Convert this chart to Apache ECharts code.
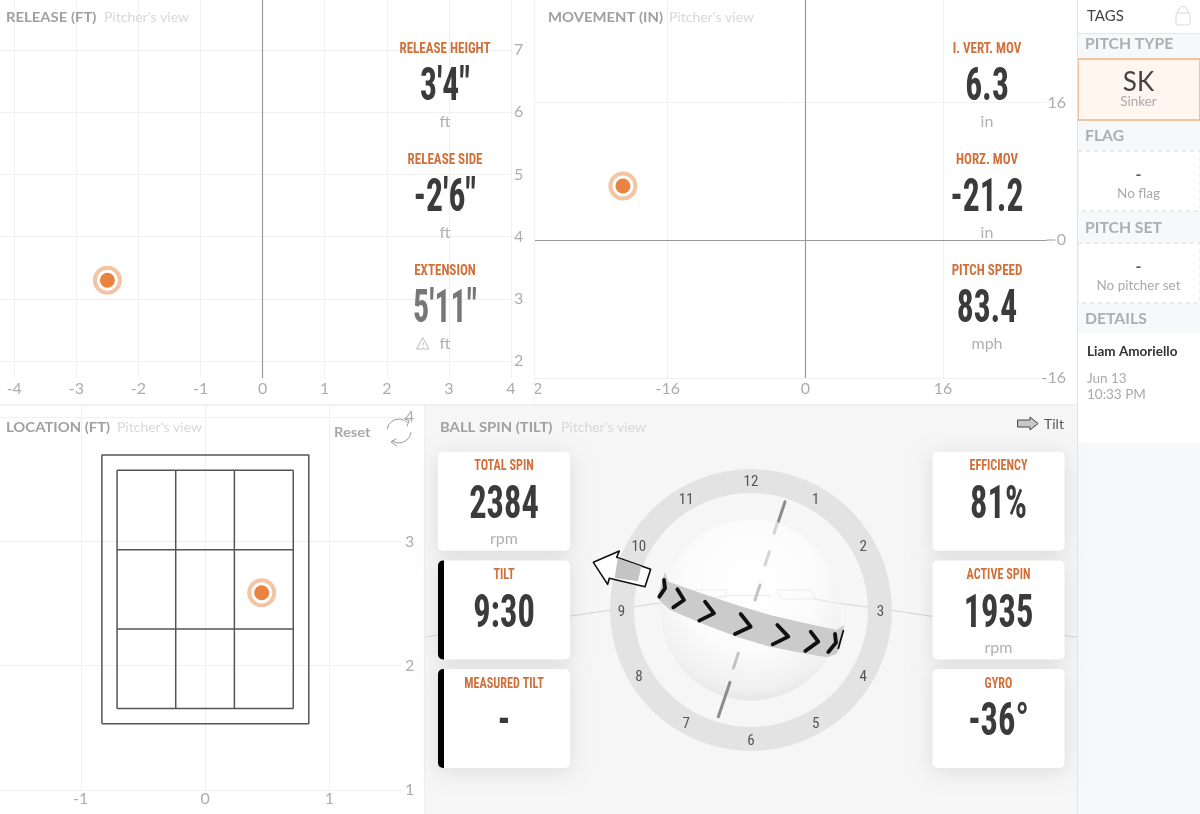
<!DOCTYPE html>
<html>
<head>
<meta charset="utf-8">
<title>Pitch detail</title>
<script src="https://cdn.jsdelivr.net/npm/echarts@6/dist/echarts.min.js"></script>
<style>
	html, body { margin: 0; padding: 0; background: #fff; }
	#main { width: 1200px; height: 814px; }
</style>
</head>
<body>
<div id="main"></div>
<script>
// pitch points
var releaseSide = [-2.5];
var releaseHeight = [3.3];
var moveHorz = [-21.2];
var moveVert = [6.3];
var locationSide = [0.456];
var locationHeight = [2.587];

// tick labels
var releaseXTicks = [-4, -3, -2, -1, 0, 1, 2, 3, 4];
var releaseYTicks = [2, 3, 4, 5, 6, 7];
var moveXTicks = [-32, -16, 0, 16];
var moveYTicks = [-16, 0, 16];
var locationXTicks = [-1, 0, 1];
var locationYTicks = [1, 2, 3, 4];

// strike zone, ft
var zoneOuterX = [-0.83, 0.835];
var zoneOuterY = [1.533, 3.695];
var zoneInnerX = [-0.708, -0.236, 0.236, 0.71];
var zoneInnerY = [1.656, 2.295, 2.933, 3.572];

// stat columns
var releaseStats = [
	['RELEASE HEIGHT', '3\'4"', 'ft'],
	['RELEASE SIDE', '-2\'6"', 'ft'],
	['EXTENSION', '5\'11"', 'ft']
];
var moveStats = [
	['I. VERT. MOV', '6.3', 'in'],
	['HORZ. MOV', '-21.2', 'in'],
	['PITCH SPEED', '83.4', 'mph']
];
var leftCards = [
	['TOTAL SPIN', '2384', 'rpm'],
	['TILT', '9:30', ''],
	['MEASURED TILT', '-', '']
];
var rightCards = [
	['EFFICIENCY', '81%', ''],
	['ACTIVE SPIN', '1935', 'rpm'],
	['GYRO', '-36°', '']
];
var clockLabels = ['12', '1', '2', '3', '4', '5', '6', '7', '8', '9', '10', '11'];

var ORANGE = '#d0703a';
var NARROW = '"Liberation Sans Narrow", "Roboto Condensed", Roboto, sans-serif';
var LATO = 'Lato, "Open Sans", sans-serif';

var g = [];

function txt(s, x, y, font, fill, align, sx, sy) {
	return {
		type: 'text', z: 20, x: x, y: y, scaleX: sx || 1, scaleY: sy || 1, silent: true,
		style: { text: s, font: font, fill: fill, align: align || 'left', verticalAlign: 'middle' }
	};
}
function box(x, y, w, h, fill, z, extra) {
	var style = { fill: fill };
	for (var k in extra) style[k] = extra[k];
	return { type: 'rect', z: z, silent: true, shape: { x: x, y: y, width: w, height: h, r: (extra && extra.r) || 0 }, style: style };
}
function poly(points, stroke, width, z, fill, closed) {
	return {
		type: closed ? 'polygon' : 'polyline', z: z || 20, silent: true,
		shape: { points: points },
		style: { stroke: stroke, lineWidth: width, fill: fill || null, lineCap: 'round', lineJoin: 'round' }
	};
}
// the dial crop was read at 3x, this turns those readings back to page pixels
function dz(points) {
	return points.map(function(p) { return [570 + p[0] / 3, 450 + p[1] / 3]; });
}

// panels
g.push(box(425, 405, 652, 409, '#f6f6f6', -20));
g.push(box(1077, 0, 123, 814, '#f7f8fa', -20));
g.push(box(0, 404, 1077, 1.5, '#eeeeee', -19));
g.push(box(424, 405, 1.5, 409, '#f0f0f0', -19));
g.push(box(1077, 0, 1, 814, '#e2e2e6', 15));

// the movement panel clips its leftmost tick label, only the "2" of -32 is left
g.push(box(525, 0, 9, 404, '#fff', 10));
g.push(box(517.5, 380, 17, 18, '#fff', 10));
g.push(box(534, 0, 1, 404, '#f2f2f2', 11));

// titles
function title(a, ax, b, bx, y) {
	g.push(txt(a, ax, y, 'bold 14px ' + LATO, '#a0a0a0', 'left', 1.06));
	g.push(txt(b, bx, y, '14px ' + LATO, '#d8d8d8'));
}
title('RELEASE (FT)', 6, "Pitcher's view", 104, 17);
title('MOVEMENT (IN)', 548, "Pitcher's view", 669, 17);
title('LOCATION (FT)', 6, "Pitcher's view", 117, 427);
title('BALL SPIN (TILT)', 440, "Pitcher's view", 561, 427);
g.push(txt('Reset', 334, 432, 'bold 14px ' + LATO, '#a8a8a8', 'left', 1.05));

// reset icon
g.push({ type: 'arc', z: 20, silent: true, shape: { cx: 399, cy: 431, r: 12, startAngle: 3.3, endAngle: 5.5 }, style: { stroke: '#999', lineWidth: 1, fill: null } });
g.push({ type: 'arc', z: 20, silent: true, shape: { cx: 399, cy: 431, r: 12, startAngle: 0.1, endAngle: 2.2 }, style: { stroke: '#999', lineWidth: 1, fill: null } });
g.push(poly([[404, 418], [409, 421], [407, 426]], '#999', 1));
g.push(poly([[397, 446], [391, 442], [396, 439]], '#999', 1));

// stat columns
function statColumn(stats, cx) {
	stats.forEach(function(s, i) {
		var dy = i * 111;
		var dim = s[0] == 'EXTENSION';
		g.push(txt(s[0], cx, 49 + dy, 'bold 15px ' + NARROW, ORANGE, 'center', 0.87));
		g.push(txt(s[1], cx, 89 + dy, 'bold 42px ' + NARROW, dim ? '#777' : '#3b3b3b', 'center', s[0] == 'EXTENSION' ? 0.76 : 0.8, 1.08));
		g.push(txt(s[2], cx, 122 + dy, '16px ' + LATO, '#b0b0b0', 'center'));
	});
}
statColumn(releaseStats, 445);
statColumn(moveStats, 987);
g.push(poly([[423, 338], [429, 349], [417, 349]], '#aaa', 0.8, 20, null, true));
g.push(txt('!', 423, 345, '8px ' + LATO, '#aaa', 'center'));

// dial
g.push({ type: 'ring', z: 1, silent: true, shape: { cx: 751, cy: 610, r: 141, r0: 117 }, style: { fill: '#e3e3e3' } });
g.push({
	type: 'circle', z: 2, silent: true, shape: { cx: 751, cy: 610, r: 90.5 },
	style: {
		fill: {
			type: 'radial', x: 0.5, y: 0.36, r: 0.68,
			colorStops: [{ offset: 0, color: '#ffffff' }, { offset: 0.55, color: '#fbfbfb' }, { offset: 0.85, color: '#f0f0f0' }, { offset: 1, color: '#e2e2e2' }]
		}
	}
});
clockLabels.forEach(function(c, i) {
	var a = i * Math.PI / 6;
	g.push(txt(c, 751 + 129.5 * Math.sin(a), 610 - 129.5 * Math.cos(a) + 2, '15px ' + NARROW, '#555', 'center'));
});

// seam line behind the ball and the cards
g.push({
	type: 'polyline', z: 0, silent: true,
	shape: { points: [[427, 637], [500, 626], [570, 616], [660, 603]], smooth: 0.3 },
	style: { stroke: '#d4d4d4', lineWidth: 1, fill: null }
});
g.push({
	type: 'polyline', z: 0, silent: true,
	shape: { points: [[815, 600], [910, 613], [1000, 627], [1077, 637]], smooth: 0.3 },
	style: { stroke: '#d4d4d4', lineWidth: 1, fill: null }
});
g.push(poly(dz([[262, 462], [360, 450], [480, 437], [600, 437]]), '#e8e8e8', 1, 3));
g.push(poly(dz([[620, 420], [722, 420], [738, 447], [632, 447], [620, 420]]), '#ececec', 1, 3));
g.push(poly(dz([[360, 420], [470, 420], [462, 445]]), '#eeeeee', 1, 3));
g.push(poly(dz([[735, 447], [815, 462]]), '#e4e4e4', 1, 3));

// spin axis
g.push(poly(dz([[645, 155], [625, 215]]), '#8c8c8c', 3, 6));
g.push(poly(dz([[622, 220], [612, 250]]), '#d4d4d4', 3, 6));
g.push(poly(dz([[598, 305], [585, 345]]), '#d4d4d4', 3, 6));
g.push(poly(dz([[570, 405], [555, 450]]), '#c4c4c4', 3, 6));
g.push(poly(dz([[505, 610], [490, 655]]), '#c4c4c4', 3, 6));
g.push(poly(dz([[480, 697], [445, 800]]), '#8c8c8c', 3, 6));

// spin band
g.push({
	type: 'polygon', z: 4, silent: true,
	shape: {
		points: dz([[285, 365], [295, 395], [400, 432], [500, 465], [600, 495], [700, 518], [800, 540], [822, 525], [810, 590], [800, 612], [770, 622], [700, 610], [600, 590], [500, 560], [400, 522], [300, 480], [262, 445]])
	},
	style: { fill: '#cbcbcb' }
});
var chevrons = [
	[[282, 390], [285, 415], [268, 440]],
	[[322, 418], [342, 450], [310, 472]],
	[[405, 455], [432, 490], [388, 512]],
	[[512, 492], [542, 530], [495, 552]],
	[[622, 525], [655, 560], [608, 583]],
	[[722, 545], [745, 575], [706, 603]],
	[[795, 552], [798, 578], [775, 606]]
];
chevrons.forEach(function(c) {
	g.push(poly(dz(c), '#111', 3.8, 7));
});
g.push(poly(dz([[820, 542], [805, 595]]), '#111', 1.8, 7));

// tilt arrow
g.push(poly(dz([[70, 337], [148, 303], [140, 322], [242, 358], [225, 410], [118, 385], [113, 403]]), '#111', 1.6, 8, '#fff', true));
g.push({
	type: 'polygon', z: 9, silent: true,
	shape: { points: dz([[143, 325], [214, 349], [204, 394], [134, 384]]) },
	style: { fill: '#c4c4c4' }
});

// small tilt legend
g.push(poly([[1018, 420], [1030, 420], [1030, 417], [1038, 423.5], [1030, 430], [1030, 427], [1018, 427]], '#444', 1, 20, '#c8c8c8', true));
g.push(txt('Tilt', 1044, 424, '14px ' + LATO, '#555'));

// spin cards
function cards(list, x, barred) {
	list.forEach(function(c, i) {
		var y = [451.7, 560.5, 669][i];
		g.push(box(x, y, 132, 99, '#fff', 12, { r: 5, shadowBlur: 20, shadowColor: 'rgba(0,0,0,0.1)', shadowOffsetY: 3 }));
		if (barred && i > 0) {
			g.push(box(x, y, 6, 99, '#000', 13, { r: [5, 0, 0, 5] }));
		}
		g.push(txt(c[0], x + 66, y + 15, 'bold 14px ' + NARROW, ORANGE, 'center', 0.87));
		g.push(txt(c[1], x + 66, y + 55, 'bold 42px ' + NARROW, '#3b3b3b', 'center', 0.82, 1.08));
		if (c[2]) {
			g.push(txt(c[2], x + 66, y + 87, '16px ' + LATO, '#b0b0b0', 'center'));
		}
	});
}
cards(leftCards, 438, true);
cards(rightCards, 932.5, false);

// sidebar
g.push(box(1078, 0, 122, 33, '#fff', 12));
g.push(box(1078, 33, 122, 1, '#e6e6ea', 13));
g.push(txt('TAGS', 1087, 16, '15px ' + LATO, '#444'));
g.push({ type: 'rect', z: 13, silent: true, shape: { x: 1176, y: 13, width: 14, height: 12, r: 2 }, style: { stroke: '#d8d8d8', fill: null, lineWidth: 1 } });
g.push({ type: 'arc', z: 13, silent: true, shape: { cx: 1183, cy: 11, r: 4.5, startAngle: Math.PI, endAngle: 0 }, style: { stroke: '#d8d8d8', fill: null, lineWidth: 1 } });
g.push(poly([[1178, 13], [1178, 11]], '#d8d8d8', 1, 13));
g.push(poly([[1188, 13], [1188, 11]], '#d8d8d8', 1, 13));

g.push(box(1078, 59, 122, 61, '#fef6ef', 12, { stroke: '#efb285', lineWidth: 1.5 }));
g.push(txt('SK', 1138.5, 83, '26px ' + LATO, '#444', 'center'));
g.push(txt('Sinker', 1138.5, 102, '13.5px ' + LATO, '#aaa', 'center'));

function dashedBox(y, h) {
	g.push(box(1078, y, 122, h, '#fff', 12, { stroke: '#dcdcdc', lineWidth: 1, lineDash: [4, 4] }));
}
dashedBox(151, 60);
g.push(txt('-', 1138.5, 175, 'bold 16px ' + LATO, '#555', 'center'));
g.push(txt('No flag', 1138.5, 194, '13.5px ' + LATO, '#aaa', 'center'));
dashedBox(243, 60);
g.push(txt('-', 1138.5, 267, 'bold 16px ' + LATO, '#555', 'center'));
g.push(txt('No pitcher set', 1138.5, 286, '13.5px ' + LATO, '#aaa', 'center'));

g.push(txt('PITCH TYPE', 1085, 44, 'bold 15px ' + LATO, '#aeaeae', 'left', 1.05));
g.push(txt('FLAG', 1085, 136, 'bold 15px ' + LATO, '#aeaeae', 'left', 1.05));
g.push(txt('PITCH SET', 1085, 228, 'bold 15px ' + LATO, '#aeaeae', 'left', 1.05));
g.push(txt('DETAILS', 1085, 319, 'bold 15px ' + LATO, '#aeaeae', 'left', 1.05));

g.push(box(1078, 333, 122, 110, '#fff', 12));
g.push(txt('Liam Amoriello', 1087, 352, 'bold 13.5px ' + LATO, '#333'));
g.push(txt('Jun 13', 1087, 379, '13.5px ' + LATO, '#aaa'));
g.push(txt('10:33 PM', 1087, 395, '13.5px ' + LATO, '#aaa'));

// the zero line of the movement panel runs on up to its tick label
g.push(poly([[1047, 240], [1055, 240]], '#9a9a9a', 1.2, 5));

// axes
var gridLine = { show: true, lineStyle: { color: '#f0f0f0', width: 1 } };

function xAxis(grid, min, max, ticks, margin) {
	return {
		type: 'value', gridIndex: grid, min: min, max: max, position: 'bottom',
		axisLine: { show: false },
		axisTick: { show: false, customValues: ticks },
		splitLine: gridLine,
		axisLabel: { color: '#adadad', fontFamily: 'Lato', fontSize: 16, margin: margin, showMinLabel: true, showMaxLabel: true, customValues: ticks }
	};
}
function yAxis(grid, min, max, ticks, margin, align, pad) {
	return {
		type: 'value', gridIndex: grid, min: min, max: max, position: 'right',
		axisLine: { show: false },
		axisTick: { show: false, customValues: ticks },
		splitLine: gridLine,
		axisLabel: { color: '#adadad', fontFamily: 'Lato', fontSize: 16, margin: margin, align: align, padding: [pad, 0, 0, 0], showMinLabel: true, showMaxLabel: true, customValues: ticks }
	};
}

// pitch dot, ring + core
function dot(index, xs, ys) {
	var data = xs.map(function(x, i) { return [x, ys[i]]; });
	return [{
		type: 'scatter', xAxisIndex: index, yAxisIndex: index, data: data, silent: true, z: 5,
		symbolSize: 25,
		itemStyle: { color: '#fff', opacity: 1, borderColor: '#f2c5a4', borderWidth: 4 }
	}, {
		type: 'scatter', xAxisIndex: index, yAxisIndex: index, data: data, silent: true, z: 6,
		symbolSize: 15,
		itemStyle: { color: '#e8843f', opacity: 1 }
	}];
}

function zeroLine(index, data) {
	return {
		type: 'line', xAxisIndex: index, yAxisIndex: index, data: [], silent: true,
		markLine: { silent: true, symbol: 'none', label: { show: false }, animation: false, lineStyle: { color: '#9a9a9a', width: 1.2, type: 'solid' }, data: data }
	};
}

// strike zone, drawn as line paths with null gaps
var zoneOuter = [
	[zoneOuterX[0], zoneOuterY[0]], [zoneOuterX[1], zoneOuterY[0]], [zoneOuterX[1], zoneOuterY[1]],
	[zoneOuterX[0], zoneOuterY[1]], [zoneOuterX[0], zoneOuterY[0]]
];
var zoneInner = [];
zoneInnerX.forEach(function(x) {
	zoneInner.push([x, zoneInnerY[0]], [x, zoneInnerY[3]], [null, null]);
});
zoneInnerY.forEach(function(y) {
	zoneInner.push([zoneInnerX[0], y], [zoneInnerX[3], y], [null, null]);
});
function zoneSeries(data) {
	return {
		type: 'line', xAxisIndex: 2, yAxisIndex: 2, data: data, silent: true, z: 4,
		showSymbol: false, symbol: 'none', connectNulls: false,
		lineStyle: { color: '#555', width: 1.5 }
	};
}

var chart = echarts.init(document.getElementById('main'));
var option = {
	animation: false,
	backgroundColor: '#fff',
	graphic: { elements: g },
	grid: [
		{ left: 0, top: 0, width: 511, height: 378 },
		{ left: 530, top: 0, width: 517, height: 378 },
		{ left: 0, top: 405, width: 402, height: 385 }
	],
	xAxis: [
		xAxis(0, -4.23, 4, releaseXTicks, 3),
		xAxis(1, -32, 28.08, moveXTicks, 3),
		xAxis(2, -1.65, 1.585, locationXTicks, 1)
	],
	yAxis: [
		yAxis(0, 1.73, 7.8, releaseYTicks, 3, 'left', 3),
		yAxis(1, -16, 27.9, moveYTicks, 19, 'right', 3),
		yAxis(2, 1, 4.097, locationYTicks, 3, 'left', 0)
	],
	series: [
		zeroLine(0, [{ xAxis: 0 }]),
		zeroLine(1, [{ xAxis: 0 }, { yAxis: 0 }]),
		zoneSeries(zoneOuter),
		zoneSeries(zoneInner)
	].concat(dot(0, releaseSide, releaseHeight), dot(1, moveHorz, moveVert), dot(2, locationSide, locationHeight))
};
chart.setOption(option);

window.addEventListener('resize', function() {
	chart.resize();
});
</script>
</body>
</html>
